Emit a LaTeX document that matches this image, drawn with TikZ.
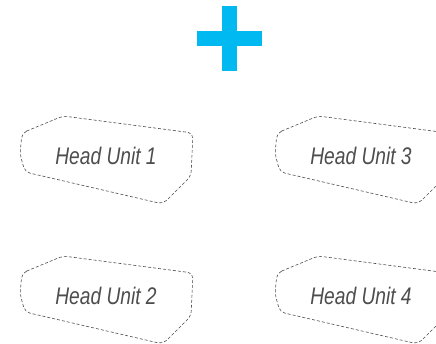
\documentclass[tikz,border=0pt]{standalone}
\usepackage{fontspec}
\setmainfont{Liberation Sans}
\newfontfamily\unitfont[FakeStretch=0.8]{Liberation Sans}
\usepackage{xcolor}
\definecolor{plusblue}{HTML}{00B9F0}
\definecolor{unitgray}{HTML}{4D4D4D}
\tikzset{
  headbox/.style={draw=unitgray,line width=0.6pt,dash pattern=on 3pt off 2pt,rounded corners=5pt},
  headtext/.style={text=unitgray,font=\unitfont\itshape\fontsize{24}{28}\selectfont,inner sep=0pt}
}
\begin{document}
\begin{tikzpicture}[x=1pt,y=-1pt]
  \useasboundingbox (0,0) rectangle (436,344);
  \clip (0,0) rectangle (436,344);
  % plus sign
  \fill[plusblue] (221.7,6) rectangle (237.3,71);
  \fill[plusblue] (196.7,30.7) rectangle (262.3,46);
  % units
  \foreach \name/\lbl/\cx/\cy in {hu1/Head Unit 1/106/156, hu2/Head Unit 2/106/296, hu3/Head Unit 3/361/156, hu4/Head Unit 4/361/296}{
    \node[headtext] (\name) at (\cx,\cy) {\lbl};
    \begin{scope}[shift={(\cx,\cy)}]
      \draw[headbox] (-84,-23) -- (-43,-40) -- (87,-23) -- (85,20)
         -- (57,48) -- (-81,16) -- (-86,-2) -- cycle;
    \end{scope}
  }
\end{tikzpicture}
\end{document}
